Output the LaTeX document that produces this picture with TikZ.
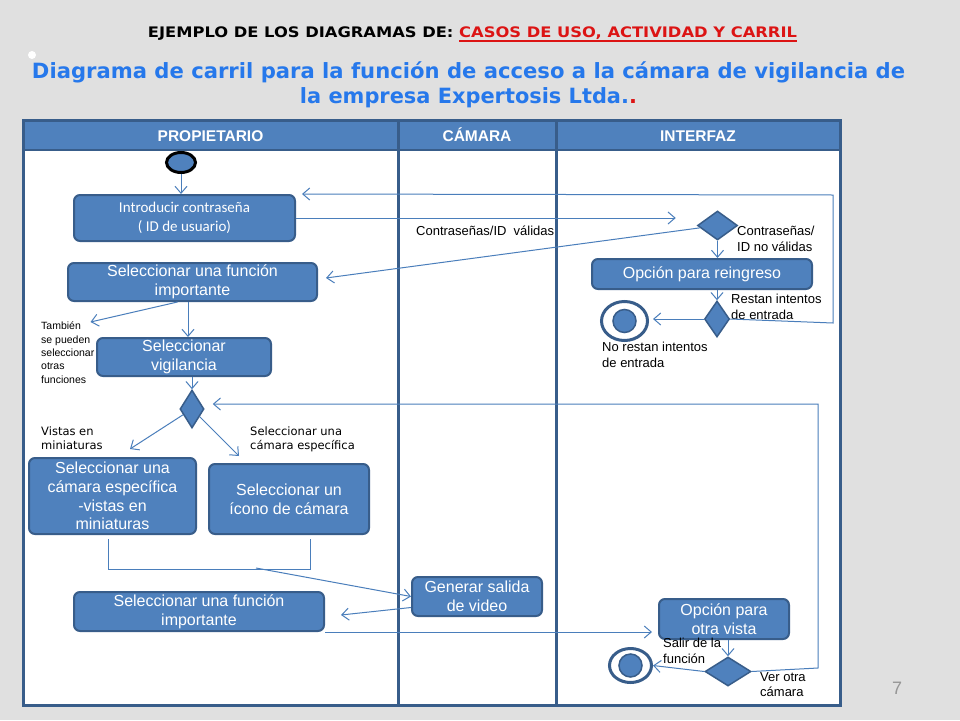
\documentclass[tikz,border=0pt]{standalone}
\usepackage{graphicx}
\usepackage{fontspec}
\setmainfont{Liberation Sans}
\newfontfamily\dejavu{DejaVu Sans}
\newfontfamily\carlito{Carlito}
\usetikzlibrary{shapes.geometric,arrows.meta,calc}
\definecolor{bg}{RGB}{224,224,224}
\definecolor{boxfill}{RGB}{79,129,189}
\definecolor{boxline}{RGB}{56,93,138}
\definecolor{conn}{RGB}{74,126,187}
\definecolor{titleblue}{RGB}{38,120,235}
\definecolor{titlered}{RGB}{220,20,20}
\definecolor{pagegray}{RGB}{150,150,150}
\begin{document}
\begin{tikzpicture}[x=1pt,y=-1pt,
  act/.style={draw=boxline, line width=2pt, fill=boxfill, rounded corners=6pt, text=white, align=center, inner sep=0pt, font=\fontsize{16}{19}\selectfont},
  dec/.style={diamond, draw=boxline, line width=1.5pt, fill=boxfill, inner sep=0pt},
  flow/.style={draw=conn, line width=1pt, -{Straight Barb[length=7pt,width=12pt]}},
  plain/.style={draw=conn, line width=1pt},
  lbl/.style={font=\fontsize{13}{15.5}\selectfont, align=left, inner sep=0pt, text=black, anchor=north west},
  vlbl/.style={font=\dejavu\fontsize{11.5}{14}\selectfont, align=left, inner sep=0pt, text=black, anchor=north west},
  lanehead/.style={text=white, font=\bfseries\fontsize{15.5}{17}\selectfont, inner sep=0pt, anchor=base},
]
\useasboundingbox (0,0) rectangle (960,720);
\fill[bg] (0,0) rectangle (960,720);
\fill[white] (32,55) circle (4);

% titles
\node[anchor=base, inner sep=0pt] (t1) at (472.5,37) {\resizebox{649pt}{\height}{\dejavu\bfseries\fontsize{14.5}{17}\selectfont EJEMPLO DE LOS DIAGRAMAS DE: \textcolor{titlered}{CASOS DE USO, ACTIVIDAD Y CARRIL}}};
\draw[titlered, line width=1.6pt] (459,41) -- (797,41);
\node[anchor=base, inner sep=0pt, text=titleblue] (t2) at (468.5,78) {\resizebox{873pt}{\height}{\dejavu\bfseries\fontsize{21}{25}\selectfont Diagrama de carril para la función de acceso a la cámara de vigilancia de}};
\node[anchor=base, inner sep=0pt, text=titleblue] (t3) at (468.5,103) {\resizebox{337pt}{\height}{\dejavu\bfseries\fontsize{21}{25}\selectfont la empresa Expertosis Ltda.\textcolor{titlered}{.}}};

% frame
\fill[white] (23,120) rectangle (840,705);
\fill[boxfill] (23,120) rectangle (840,150);
\draw[boxline, line width=2pt] (23,150) -- (840,150);
\draw[boxline, line width=3pt] (398,120) -- (398,705);
\draw[boxline, line width=3pt] (556,120) -- (556,705);
\draw[boxline, line width=3pt] (23,120) rectangle (840,705);
\node[lanehead] (h1) at (210.5,141) {PROPIETARIO};
\node[lanehead] (h2) at (477,141) {CÁMARA};
\node[lanehead] (h3) at (698,141) {INTERFAZ};

% nodes
\node[ellipse, draw=black, line width=3pt, fill=boxfill, minimum width=29pt, minimum height=20pt, inner sep=0pt] (start) at (181,162.5) {};
\node[act, minimum width=221pt, minimum height=46pt, font=\carlito\fontsize{15}{19}\selectfont] (intro) at (184.5,218) {Introducir contraseña\\( ID de usuario)};
\node[act, minimum width=249pt, minimum height=38pt] (selfun1) at (192.5,282) {Seleccionar una función\\importante};
\node[act, minimum width=174pt, minimum height=38pt] (vigil) at (184,357) {Seleccionar\\vigilancia};
\node[dec, minimum width=24pt, minimum height=38pt] (d1) at (192,409) {};
\node[act, minimum width=167pt, minimum height=76pt, font=\fontsize{16}{18.7}\selectfont] (camesp) at (112.5,496) {Seleccionar una\\cámara específica\\-vistas en\\miniaturas};
\node[act, minimum width=160pt, minimum height=70pt] (icono) at (289,499) {Seleccionar un\\ícono de cámara};
\node[act, minimum width=130pt, minimum height=39pt] (generar) at (477,596.5) {Generar salida\\de video};
\node[act, minimum width=250pt, minimum height=39pt] (selfun2) at (199,611.5) {Seleccionar una función\\importante};
\node[act, minimum width=130pt, minimum height=40pt] (otravista) at (724,619) {Opción para\\otra vista};
\node[dec, minimum width=46pt, minimum height=29pt] (d3) at (728,671.5) {};
\node[ellipse, draw=boxline, line width=3pt, fill=white, minimum width=42pt, minimum height=34pt, inner sep=0pt] (end2) at (630.5,665.5) {};
\node[circle, draw=boxline, line width=1.5pt, fill=boxfill, minimum size=23pt, inner sep=0pt] (end2in) at (630.5,665.5) {};

\node[dec, minimum width=40pt, minimum height=29pt] (d2) at (717.5,225.5) {};
\node[act, minimum width=220pt, minimum height=30pt] (reingreso) at (702,274) {Opción para reingreso};
\node[dec, minimum width=25pt, minimum height=36pt] (d4) at (717,319) {};
\node[ellipse, draw=boxline, line width=3pt, fill=white, minimum width=46pt, minimum height=39pt, inner sep=0pt] (end1) at (624.5,321) {};
\node[circle, draw=boxline, line width=1.5pt, fill=boxfill, minimum size=23pt, inner sep=0pt] (end1in) at (624.5,321) {};

% labels
\node[lbl] (lval) at (416,226) {Contraseñas/ID\ \ válidas};
\node[lbl] (lnoval) at (737,226) {Contraseñas/\\ID no válidas};
\node[lbl] (lrestan) at (731,294) {Restan intentos\\de entrada};
\node[lbl] (lnorestan) at (602,342) {No restan intentos\\de entrada};
\node[lbl, font=\fontsize{10.5}{13.3}\selectfont] (ltam) at (41,322) {También\\se pueden\\seleccionar\\otras\\funciones};
\node[vlbl] (lvis) at (41,427) {Vistas en\\miniaturas};
\node[vlbl] (lsel) at (250,427) {Seleccionar una\\cámara específica};
\node[lbl] (lsalir) at (663,638) {Salir de la\\función};
\node[lbl] (lver) at (760,672) {Ver otra\\cámara};
\node[text=pagegray, font=\fontsize{18}{18}\selectfont, inner sep=0pt] (pnum) at (897,688) {7};

% connectors
\coordinate (rA) at (833,323);
\coordinate (rB) at (833,195);
\coordinate (vA) at (818,668);
\coordinate (vB) at (818,404);
\coordinate (merge) at (256,568);

\draw[flow] (start.south) -- (start.south |- intro.north);
\draw[flow, shorten >=21pt] (intro.east) -- (intro.east -| d2.west);
\draw[flow] (d2) -- ($(selfun1.east)+(8,-4)$);
\draw[flow] (d2.south) -- (d2.south |- reingreso.north);
\draw[flow] (reingreso.south -| d4.north) -- (d4.north);
\draw[flow, shorten >=4pt] (d4.west) -- (d4.west -| end1.east);
\draw[flow] (d4.east) -- (rA) -- (rB) -- ($(intro.north east)+(6,0)$);

\draw[flow] ($(selfun1.south)+(-4.5,0)$) -- ($(vigil.north)+(4,0)$);
\draw[flow] ($(selfun1.south)+(-15,0)$) -- ($(ltam.north east)+(-4,0)$);
\draw[flow] ($(vigil.south)+(8,0)$) -- (d1.north);
\draw[flow] (d1) -- ($(camesp.north)+(17.5,-8)$);
\draw[flow] (d1) -- ($(icono.north west)+(31,-7)$);
\draw[plain] ($(camesp.south)+(-4.5,4)$) -- ++(0,30) -| ($(icono.south)+(21,4)$);
\draw[flow] (merge) -- (generar.west);
\draw[flow] ($(generar.west)+(0,11)$) -- ($(selfun2.east)+(16,3.5)$);
\draw[flow, shorten >=6pt] (selfun2.south east) -- (selfun2.south east -| otravista.west);
\draw[flow] (otravista.south -| d3.north) -- (d3.north);
\draw[flow] (d3.west) -- (end2.east);
\draw[flow] (d3.east) -- (vA) -- (vB) -- ($(d1.east)+(8,-5)$);
\end{tikzpicture}
\end{document}
